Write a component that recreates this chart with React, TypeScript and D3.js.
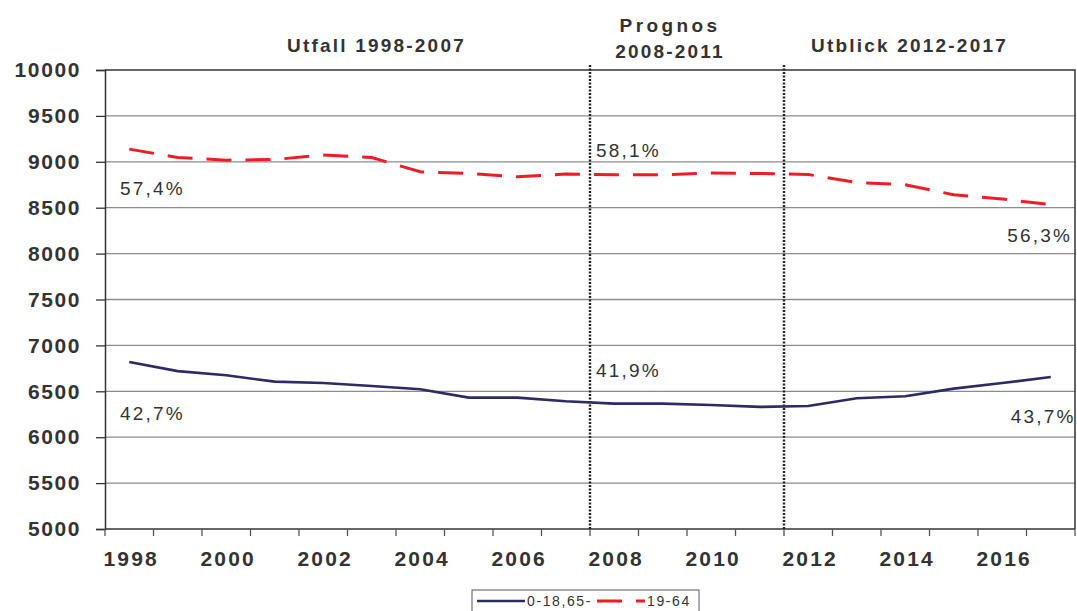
import React, { useEffect, useRef } from 'react';
import * as d3 from 'd3';

const years = d3.range(1998, 2018).map(String);
const tickYears = ['1998', '2000', '2002', '2004', '2006', '2008', '2010', '2012', '2014', '2016'];
const yTicks = [5000, 5500, 6000, 6500, 7000, 7500, 8000, 8500, 9000, 9500, 10000];

const youngOld = [6819, 6720, 6674, 6605, 6590, 6558, 6522, 6431, 6431, 6391, 6366, 6366, 6351, 6330, 6340, 6424, 6446, 6529, 6590, 6655];
const working = [9138, 9047, 9018, 9025, 9073, 9047, 8891, 8873, 8837, 8866, 8859, 8859, 8877, 8873, 8862, 8775, 8750, 8641, 8595, 8533];

const periodBreaks = ['2008', '2012'];
const periodTitles = [
  { lines: ['Utfall 1998-2007'], from: '1998', to: '2007', dx: 29 },
  { lines: ['Prognos', '2008-2011'], from: '2008', to: '2011', dx: -17 },
  { lines: ['Utblick 2012-2017'], from: '2012', to: '2017', dx: -20 },
];

// share of population, placed at the value where the label baseline sits
const shareLabels = [
  { text: '57,4%', year: '1998', value: 8638, anchor: 'start' },
  { text: '58,1%', year: '2008', value: 9052, anchor: 'start' },
  { text: '56,3%', year: '2017', value: 8126, anchor: 'end' },
  { text: '42,7%', year: '1998', value: 6187, anchor: 'start' },
  { text: '41,9%', year: '2008', value: 6656, anchor: 'start' },
  { text: '43,7%', year: '2017', value: 6158, anchor: 'start' },
];

const seriesNames = ['0-18,65-', '19-64'];

const width = 1077;
const height = 611;
const margin = { top: 70, right: 1, bottom: 82, left: 105 };

const font = '"Liberation Sans", Arial, sans-serif';

const Chart = () => {
  const svgRef = useRef<SVGSVGElement>(null);

  useEffect(() => {
    const svg = d3.select(svgRef.current);
    svg.selectAll('*').remove();

    const innerWidth = width - margin.left - margin.right;
    const innerHeight = height - margin.top - margin.bottom;

    const g = svg.append('g').attr('transform', `translate(${margin.left},${margin.top})`);

    const x = d3.scaleBand().domain(years).range([0, innerWidth - 1]).padding(0);
    const y = d3.scaleLinear().domain([5000, 10000]).range([innerHeight, 0]);
    const cx = (yr: string) => (x(yr) as number) + x.bandwidth() / 2;

    // gridlines
    g.selectAll('.grid')
      .data(yTicks.slice(1, -1))
      .enter()
      .append('line')
      .attr('x1', 0)
      .attr('x2', innerWidth - 1)
      .attr('y1', d => y(d))
      .attr('y2', d => y(d))
      .style('stroke', '#8c8c8c')
      .style('stroke-width', 1.3);

    // frame: top + right
    g.append('path')
      .attr('d', `M0,${y(10000)}H${innerWidth - 1}V${innerHeight}`)
      .style('fill', 'none')
      .style('stroke', '#333')
      .style('stroke-width', 1.5);

    // y axis
    const yAxis = g.append('g')
      .call(d3.axisLeft(y).tickValues(yTicks).tickSize(9).tickPadding(15).tickFormat(d3.format('d')));
    yAxis.select('.domain').style('stroke', '#333').style('stroke-width', 1.5);
    yAxis.selectAll('line').style('stroke', '#333').style('stroke-width', 1.3);
    yAxis.selectAll('text')
      .style('font-family', font)
      .style('font-size', '21px')
      .style('font-weight', 'bold')
      .style('letter-spacing', '1.6px')
      .style('fill', '#333');

    // x axis: ticks at band boundaries
    const xb = g.append('g').attr('transform', `translate(0,${innerHeight})`);
    xb.append('line')
      .attr('x1', 0)
      .attr('x2', innerWidth - 1)
      .style('stroke', '#333')
      .style('stroke-width', 1.5);
    xb.selectAll('.xtick')
      .data(years.concat(['end']))
      .enter()
      .append('line')
      .attr('x1', d => (d === 'end' ? innerWidth - 1 : (x(d) as number)))
      .attr('x2', d => (d === 'end' ? innerWidth - 1 : (x(d) as number)))
      .attr('y1', 0)
      .attr('y2', 7)
      .style('stroke', '#555')
      .style('stroke-width', 1.3);
    xb.selectAll('.xlabel')
      .data(tickYears)
      .enter()
      .append('text')
      .attr('x', d => cx(d) + 2)
      .attr('y', 37)
      .attr('text-anchor', 'middle')
      .style('font-family', font)
      .style('font-size', '21px')
      .style('font-weight', 'bold')
      .style('letter-spacing', '2.2px')
      .style('fill', '#333')
      .text(d => d);

    // period separators
    g.selectAll('.sep')
      .data(periodBreaks)
      .enter()
      .append('line')
      .attr('x1', d => x(d) as number)
      .attr('x2', d => x(d) as number)
      .attr('y1', -5)
      .attr('y2', innerHeight)
      .style('stroke', '#222')
      .style('stroke-width', 2.4)
      .style('stroke-dasharray', '2,1.5');

    // period titles
    periodTitles.forEach(p => {
      const mid = ((x(p.from) as number) + (x(p.to) as number) + x.bandwidth()) / 2 + p.dx;
      p.lines.forEach((line, i) => {
        g.append('text')
          .attr('x', mid)
          .attr('y', p.lines.length === 1 ? -18 : -38 + i * 26)
          .attr('text-anchor', 'middle')
          .style('font-family', font)
          .style('font-size', '19px')
          .style('font-weight', 'bold')
          .style('letter-spacing', i === 0 && p.lines.length > 1 ? '3.4px' : '2.2px')
          .style('fill', '#333')
          .text(line);
      });
    });

    // lines
    const line = d3.line<number>()
      .x((_, i) => cx(years[i]))
      .y(d => y(d));

    g.append('path')
      .datum(youngOld)
      .attr('d', line)
      .style('fill', 'none')
      .style('stroke', '#2b2b66')
      .style('stroke-width', 2.6);

    g.append('path')
      .datum(working)
      .attr('d', line)
      .style('fill', 'none')
      .style('stroke', '#ee1c25')
      .style('stroke-width', 3)
      .style('stroke-dasharray', '25,14');

    // share labels
    g.selectAll('.share')
      .data(shareLabels)
      .enter()
      .append('text')
      .attr('x', d => (d.anchor === 'end' ? innerWidth - 4 : d.year === '2017' ? cx(d.year) - 40 : (x(d.year) as number) + (d.year === '1998' ? 15 : 6)))
      .attr('y', d => y(d.value))
      .attr('text-anchor', d => d.anchor)
      .style('font-family', font)
      .style('font-size', '19px')
      .style('letter-spacing', '2.2px')
      .style('fill', '#333')
      .text(d => d.text);

    // legend
    const legend = svg.append('g').attr('transform', 'translate(472,590)');
    legend.append('rect')
      .attr('width', 227)
      .attr('height', 30)
      .style('fill', 'white')
      .style('stroke', '#555')
      .style('stroke-width', 1);
    legend.append('line')
      .attr('x1', 5).attr('x2', 53).attr('y1', 11).attr('y2', 11)
      .style('stroke', '#2b2b66').style('stroke-width', 2.6);
    legend.append('text')
      .attr('x', 55).attr('y', 16)
      .style('font-family', font).style('font-size', '14px').style('letter-spacing', '1.6px').style('fill', '#333')
      .text(seriesNames[0]);
    legend.append('line')
      .attr('x1', 125).attr('x2', 173).attr('y1', 11).attr('y2', 11)
      .style('stroke', '#ee1c25').style('stroke-width', 3).style('stroke-dasharray', '25,14');
    legend.append('text')
      .attr('x', 175).attr('y', 16)
      .style('font-family', font).style('font-size', '14px').style('letter-spacing', '1.6px').style('fill', '#333')
      .text(seriesNames[1]);
  }, []);

  return <svg ref={svgRef} width={width} height={height} style={{ display: 'block', background: 'white' }} />;
};

export default function App() {
  return (
    <div style={{ position: 'fixed', top: 0, left: 0, width, height, background: 'white' }}>
      <Chart />
    </div>
  );
}
